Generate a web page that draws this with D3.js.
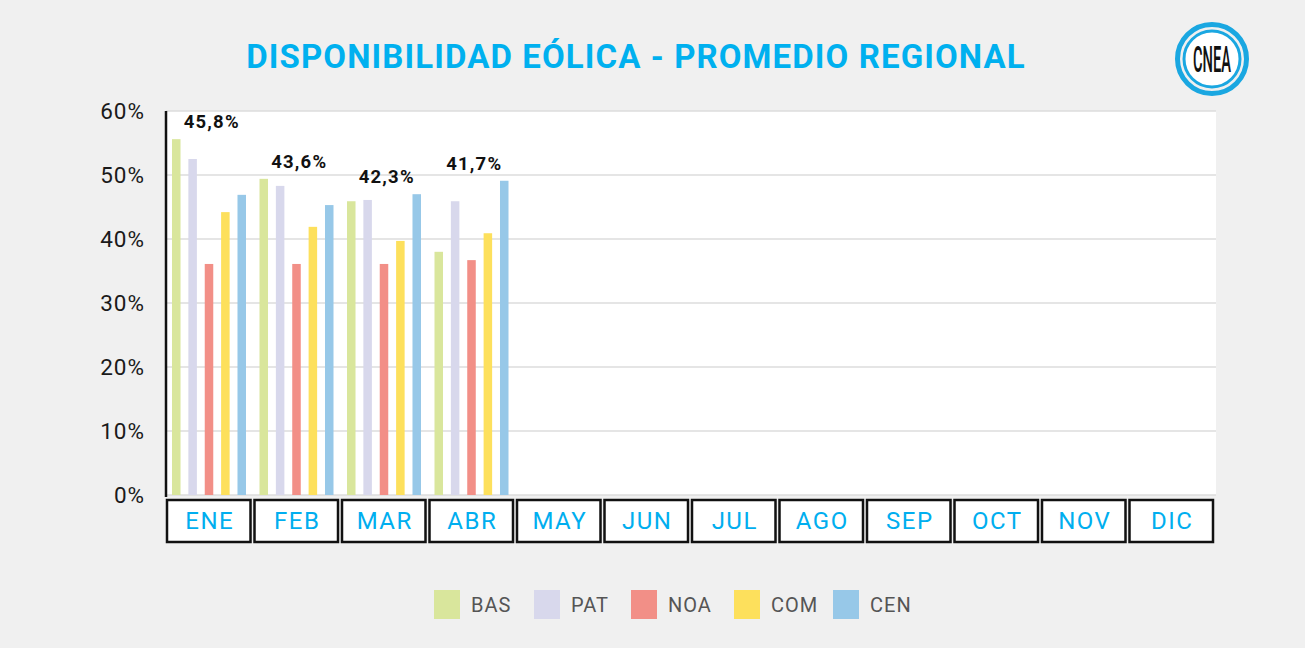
<!DOCTYPE html>
<html>
<head>
<meta charset="utf-8">
<script src="https://cdn.jsdelivr.net/npm/d3@7"></script>
<style>
  body { margin: 0; background: #f0f0f0; }
  svg { display: block; font-family: Roboto, "Noto Sans", sans-serif; }
</style>
</head>
<body>
<svg width="1305" height="648"></svg>
<script>
// chart data
var months = ['ENE', 'FEB', 'MAR', 'ABR', 'MAY', 'JUN', 'JUL', 'AGO', 'SEP', 'OCT', 'NOV', 'DIC'];
var regions = ['BAS', 'PAT', 'NOA', 'COM', 'CEN'];
var colors = ['#d9e69c', '#d8d8ec', '#f28f87', '#fde05c', '#97c8e8'];
var BAS = [55.6, 49.4, 45.9, 38.0];
var PAT = [52.5, 48.3, 46.1, 45.9];
var NOA = [36.1, 36.1, 36.1, 36.7];
var COM = [44.2, 41.9, 39.7, 40.9];
var CEN = [46.9, 45.3, 47.0, 49.1];
var averages = ['45,8%', '43,6%', '42,3%', '41,7%'];
var yTicks = [0, 10, 20, 30, 40, 50, 60];

var series = [BAS, PAT, NOA, COM, CEN];

var svg = d3.select('svg');
var padding = {t: 111, r: 89, b: 153, l: 166};
var chartW = 1305 - padding.l - padding.r;
var chartH = 648 - padding.t - padding.b;

// title
svg.append('text')
    .attr('x', 636).attr('y', 68)
    .attr('text-anchor', 'middle')
    .style('font-size', '33px').style('font-weight', 700)
    .style('letter-spacing', '1.1px')
    .style('fill', '#00b0ef')
    .text('DISPONIBILIDAD EÓLICA - PROMEDIO REGIONAL');

// logo
var logo = svg.append('g').attr('transform', 'translate(1212,59)');
logo.append('circle').attr('r', 34.5)
    .style('fill', 'none').style('stroke', '#1aa7e1').style('stroke-width', 5);
logo.append('circle').attr('r', 28)
    .style('fill', '#fff').style('stroke', '#1aa7e1').style('stroke-width', 3);
logo.append('text').attr('y', 13).attr('text-anchor', 'middle')
    .attr('textLength', 38).attr('lengthAdjust', 'spacingAndGlyphs')
    .style('font-size', '36px').style('font-weight', 500).style('fill', '#111')
    .text('CNEA');

var chartG = svg.append('g').attr('transform', 'translate(' + [padding.l, padding.t] + ')');

var y = d3.scaleLinear().domain([0, 60]).range([chartH, 0]);
var x0 = d3.scaleBand().domain(months).range([0, chartW]);
var x1 = d3.scaleBand().domain(regions).range([6, 80]).paddingInner(0.48);

chartG.append('rect').attr('width', chartW).attr('height', chartH).style('fill', '#fff');

// gridlines
chartG.selectAll('.grid').data(yTicks).enter().append('line')
    .attr('class', 'grid')
    .attr('x1', 0).attr('x2', chartW)
    .attr('y1', function(d) { return y(d); }).attr('y2', function(d) { return y(d); })
    .style('stroke', '#dcdcdc').style('stroke-width', 1.5);

// y tick labels
chartG.selectAll('.ylab').data(yTicks).enter().append('text')
    .attr('class', 'ylab')
    .attr('x', -21).attr('y', function(d) { return y(d) + 8; })
    .attr('text-anchor', 'end')
    .style('font-size', '22.5px').style('letter-spacing', '1px').style('fill', '#1a1a1a')
    .text(function(d) { return d + '%'; });

// bars
var groups = chartG.selectAll('.month').data(months.slice(0, BAS.length)).enter().append('g')
    .attr('class', 'month')
    .attr('transform', function(d) { return 'translate(' + x0(d) + ',0)'; });

groups.selectAll('rect').data(function(d, i) {
        return regions.map(function(r, j) { return {region: r, value: series[j][i], color: colors[j]}; });
    }).enter().append('rect')
    .attr('x', function(d) { return x1(d.region); })
    .attr('width', x1.bandwidth())
    .attr('y', function(d) { return y(d.value); })
    .attr('height', function(d) { return chartH - y(d.value); })
    .style('fill', function(d) { return d.color; });

// average labels above each group
groups.append('text')
    .attr('x', x0.bandwidth() / 2 + 2)
    .attr('y', function(d, i) { return y(d3.max(series, function(s) { return s[i]; })) - 11; })
    .attr('text-anchor', 'middle')
    .style('font-size', '18.5px').style('font-weight', 700).style('letter-spacing', '1.2px')
    .style('fill', '#111')
    .text(function(d, i) { return averages[i]; });

// left axis line
chartG.append('line').attr('x1', 0).attr('x2', 0).attr('y1', 0).attr('y2', chartH + 2)
    .style('stroke', '#111').style('stroke-width', 2.5);

// month boxes
var boxes = chartG.selectAll('.mbox').data(months).enter().append('g')
    .attr('class', 'mbox')
    .attr('transform', function(d) { return 'translate(' + x0(d) + ',' + (chartH + 5) + ')'; });
boxes.append('rect')
    .attr('x', 1).attr('y', 0)
    .attr('width', x0.bandwidth() - 4).attr('height', 42)
    .style('fill', '#fff').style('stroke', '#111').style('stroke-width', 2.5);
boxes.append('text')
    .attr('x', x0.bandwidth() / 2).attr('y', 29)
    .attr('text-anchor', 'middle')
    .style('font-size', '24px').style('letter-spacing', '1.5px').style('fill', '#00aeef')
    .text(function(d) { return d; });

// legend
var legendX = [434, 534, 631, 734, 833];
var legend = svg.selectAll('.legend').data(regions).enter().append('g')
    .attr('class', 'legend')
    .attr('transform', function(d, i) { return 'translate(' + legendX[i] + ',590)'; });
legend.append('rect').attr('width', 26).attr('height', 29)
    .style('fill', function(d, i) { return colors[i]; });
legend.append('text').attr('x', 37).attr('y', 22)
    .style('font-size', '20px').style('letter-spacing', '1px').style('fill', '#555')
    .text(function(d) { return d; });
</script>
</body>
</html>
